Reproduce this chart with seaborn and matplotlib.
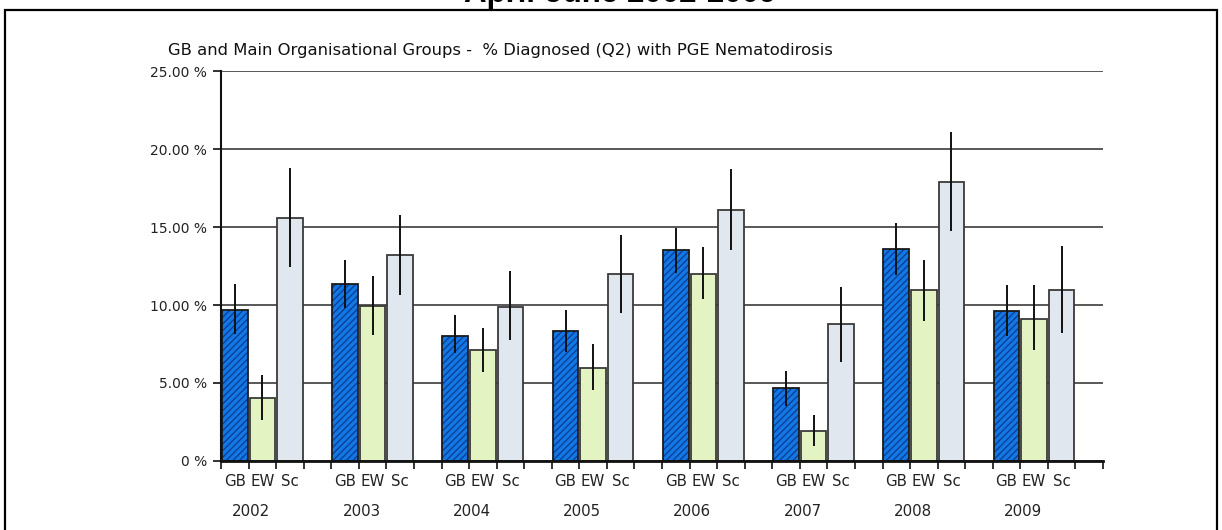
import numpy as np
import pandas as pd
import matplotlib
matplotlib.use("Agg")
import matplotlib.pyplot as plt
import seaborn as sns
from matplotlib.patches import Rectangle
from matplotlib.transforms import blended_transform_factory

# Survey years and organisational groups
years = ["2002", "2003", "2004", "2005", "2006", "2007", "2008", "2009"]
groups = ["GB", "EW", "Sc"]

# % diagnosed with PGE Nematodirosis (Q2), with lower / upper confidence limits
gb = [9.66, 11.32, 8.03, 8.33, 13.50, 4.70, 13.61, 9.59]
gb_lo = [8.12, 9.83, 6.94, 7.01, 12.07, 3.55, 11.92, 8.01]
gb_hi = [11.35, 12.88, 9.34, 9.70, 14.94, 5.79, 15.26, 11.26]

ew = [4.06, 9.91, 7.14, 5.96, 11.97, 1.94, 10.96, 9.12]
ew_lo = [2.63, 8.08, 5.73, 4.55, 10.36, 0.98, 9.00, 7.09]
ew_hi = [5.51, 11.88, 8.53, 7.52, 13.70, 2.97, 12.88, 11.26]

sc = [15.60, 13.23, 9.89, 11.97, 16.07, 8.78, 17.88, 10.96]
sc_lo = [12.46, 10.64, 7.74, 9.47, 13.55, 6.35, 14.74, 8.18]
sc_hi = [18.80, 15.79, 12.16, 14.51, 18.70, 11.18, 21.07, 13.80]

y_ticks = [0, 5, 10, 15, 20, 25]
y_tick_labels = ["0 %", "5.00 %", "10.00 %", "15.00 %", "20.00 %", "25.00 %"]

colors = {"GB": "#1278e6", "EW": "#e3f3c1", "Sc": "#e1e7ef"}
hatch_color = "#0c3f96"
edge_color = "#3a3a3a"

# Long table: each year occupies four slots (three bars and a gap)
values = {"GB": (gb, gb_lo, gb_hi), "EW": (ew, ew_lo, ew_hi), "Sc": (sc, sc_lo, sc_hi)}
rows = []
for i, yr in enumerate(years):
    for j, g in enumerate(groups):
        v, lo, hi = values[g]
        rows.append({"slot": 4 * i + j, "year": yr, "group": g,
                     "value": v[i], "lo": lo[i], "hi": hi[i]})
df = pd.DataFrame(rows)
n_slots = 4 * len(years)

sns.set_theme(style="white")
plt.rcParams["font.family"] = ["DejaVu Sans"]
plt.rcParams["hatch.linewidth"] = 1.0

fig = plt.figure(figsize=(12.22, 5.30), dpi=100)
W, H = 1222, 530
ax = fig.add_axes([221 / W, 1 - 461 / H, (1103 - 221) / W, (461 - 71) / H])

# gridlines behind the bars
for t in y_ticks:
    ax.axhline(t, color="#3c3c3c", lw=1.2, zorder=0)

sns.barplot(data=df, x="slot", y="value", hue="group", order=list(range(n_slots)),
            hue_order=groups, palette=colors, dodge=False, width=0.93,
            errorbar=None, legend=False, edgecolor=edge_color, linewidth=1.3,
            saturation=1, ax=ax, zorder=2)

# diagonal stripes on the GB bars, with a separate dark outline
gb_rgba = matplotlib.colors.to_rgba(colors["GB"])
for p in list(ax.patches):
    if np.allclose(p.get_facecolor(), gb_rgba, atol=0.02):
        p.set_hatch("/////")
        p.set_edgecolor(hatch_color)
        p.set_linewidth(0)
        ax.add_patch(Rectangle((p.get_x(), p.get_y()), p.get_width(), p.get_height(),
                               fill=False, edgecolor="#1a1a1a", lw=1.3, zorder=2.5))

# confidence intervals
ax.vlines(df["slot"], df["lo"], df["hi"], color="#111111", lw=1.4, zorder=3)

ax.set_xlim(-0.5, n_slots - 0.5)
ax.set_ylim(0, 25)
ax.set_yticks(y_ticks)
ax.set_yticklabels(y_tick_labels)
ax.set_xticks(np.arange(-0.5, n_slots, 1.0))
ax.set_xticklabels([])
ax.set_xticks(df["slot"], minor=True)
ax.set_xticklabels(df["group"], minor=True)
ax.set_xlabel("")
ax.set_ylabel("")

ax.tick_params(axis="x", which="major", direction="out", length=6, width=1.3,
               color="#222222", bottom=True)
ax.tick_params(axis="x", which="minor", length=0, pad=9, labelsize=10.8,
               labelcolor="#222222", bottom=True)
ax.tick_params(axis="y", direction="out", length=6, width=1.3, color="#222222",
               pad=4, labelsize=10, labelcolor="#222222", left=True)

for s in ["top", "right"]:
    ax.spines[s].set_visible(False)
ax.spines["left"].set_color("#111111")
ax.spines["left"].set_linewidth(1.5)
ax.spines["bottom"].set_color("#111111")
ax.spines["bottom"].set_linewidth(2.0)
ax.spines["bottom"].set_zorder(4)

trans = blended_transform_factory(ax.transData, ax.transAxes)
for i, yr in enumerate(years):
    ax.text(4 * i + 0.6, -50 / 390, yr, transform=trans, ha="center", va="center",
            fontsize=10.8, color="#222222")

fig.text(168 / W, 1 - 50 / H,
         "GB and Main Organisational Groups -  % Diagnosed (Q2) with PGE Nematodirosis",
         ha="left", va="center", fontsize=11.8, color="#111111")

fig.text(620 / W, 1 - 2 / H, "April-June 2002-2009", ha="center", va="baseline",
         fontsize=22.5, fontweight="bold", family="Liberation Sans", color="black")

fig.add_artist(Rectangle((5 / W, -0.1), (1217 - 5) / W, 1.1 - 10 / H,
                         transform=fig.transFigure, fill=False, edgecolor="black",
                         lw=1.6, clip_on=False))

fig.savefig("out.png", dpi=100)
